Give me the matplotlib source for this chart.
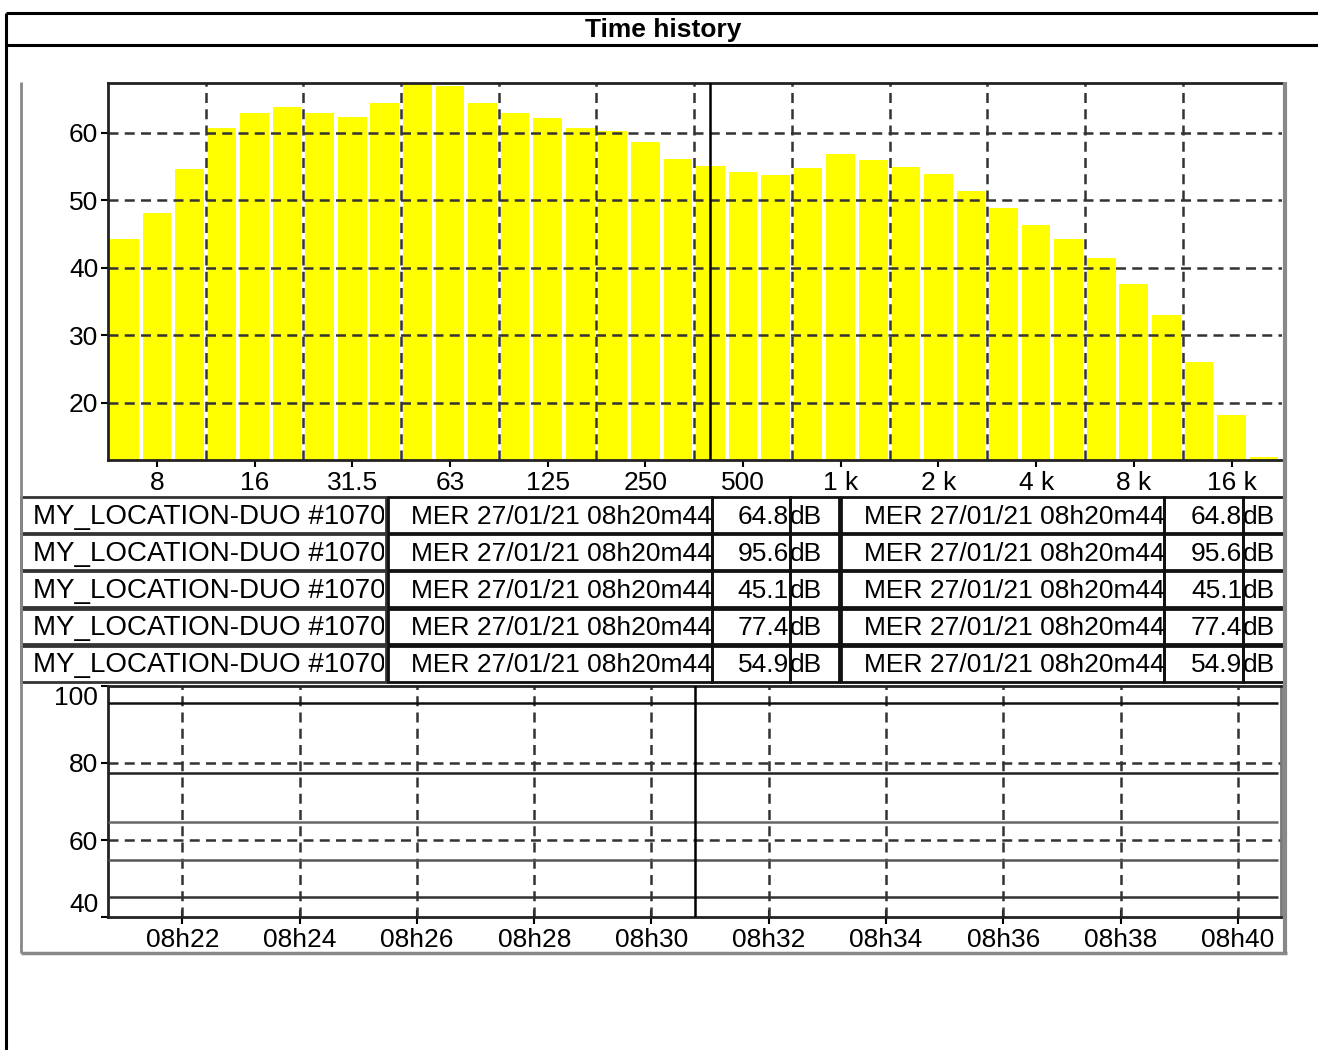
import matplotlib
matplotlib.use("Agg")
import matplotlib.pyplot as plt
from matplotlib.patches import Rectangle
from matplotlib.lines import Line2D
from matplotlib.transforms import Bbox, TransformedBbox

plt.rcParams['font.family'] = ['Liberation Sans', 'DejaVu Sans']

# --- data ---
bands = ['6.3', '8', '10', '12.5', '16', '20', '25', '31.5', '40', '50', '63', '80',
         '100', '125', '160', '200', '250', '315', '400', '500', '630', '800',
         '1 k', '1.25 k', '1.6 k', '2 k', '2.5 k', '3.15 k', '4 k', '5 k', '6.3 k',
         '8 k', '10 k', '12.5 k', '16 k', '20 k']
levels = [44.2, 48.1, 54.7, 60.8, 62.9, 63.8, 62.9, 62.4, 64.4, 67.2, 67.0, 64.4,
          63.0, 62.2, 60.8, 60.3, 58.7, 56.1, 55.1, 54.2, 53.7, 54.8,
          56.9, 56.0, 54.9, 53.9, 51.4, 48.9, 46.4, 44.2, 41.5,
          37.6, 33.0, 26.1, 18.1, 12.0]
octave_labels = ['8', '16', '31.5', '63', '125', '250', '500', '1 k', '2 k', '4 k', '8 k', '16 k']
cursor_band = '400'

row_names = ['MY_LOCATION-DUO #10705'] * 5
row_dates = ['MER 27/01/21 08h20m44'] * 5
row_values = [64.8, 95.6, 45.1, 77.4, 54.9]

# time axis in minutes after 08h00
t_start = 20 + 44 / 60
t_end = 40 + 44 / 60
t_cursor = 30 + 44 / 60
time_ticks = [22, 24, 26, 28, 30, 32, 34, 36, 38, 40]
time_labels = ['08h%02d' % m for m in time_ticks]
line_colors = ['#666666', '#111111', '#333333', '#222222', '#555555']

W, H = 1318, 1050
FS = 19
fig = plt.figure(figsize=(W / 100, H / 100), dpi=100)


def fx(px):
    return px / W


def fy(py):
    return 1 - py / H


grid_kw = dict(color='#333333', linestyle=(0, (4, 2.5)), linewidth=1.8)

# --- spectrum ---
ax1 = fig.add_axes([fx(108), fy(460), fx(1282) - fx(108), fy(83) - fy(460)])
x = list(range(len(bands)))
ax1.bar(x, levels, width=0.88, color='#ffff00', zorder=1)
ax1.set_xlim(-0.5, 35.55)
ax1.set_ylim(11.5, 67.4)
for g in range(2, len(bands) - 2, 3):
    ax1.axvline(g + 0.5, zorder=2, **grid_kw)
for v in [20, 30, 40, 50, 60]:
    ax1.axhline(v, zorder=2, **grid_kw)
ax1.axvline(bands.index(cursor_band), color='black', linewidth=1.8, zorder=3)
ax1.set_xticks([bands.index(b) for b in octave_labels])
ax1.set_xticklabels(octave_labels)
ax1.set_yticks([20, 30, 40, 50, 60])
ax1.tick_params(labelsize=FS, length=5, width=1.5, pad=3, colors='black')
ax1.tick_params(axis='y', pad=2)
ax1.spines['right'].set_visible(False)
for s in ['top', 'bottom', 'left']:
    ax1.spines[s].set_linewidth(2)
    ax1.spines[s].set_color('#222222')

# --- time history ---
ax2 = fig.add_axes([fx(108), fy(917), fx(1281) - fx(108), fy(686) - fy(917)])
ax2.set_xlim(t_start, t_end)
ax2.set_ylim(40, 100)
ax2.hlines(row_values, t_start, t_end - 0.05, colors=line_colors, linewidth=1.8, zorder=3)
for t in time_ticks:
    ax2.axvline(t, zorder=2, **grid_kw)
for v in [60, 80]:
    ax2.axhline(v, zorder=2, **grid_kw)
ax2.axvline(t_cursor, color='black', linewidth=1.8, zorder=4)
ax2.set_xticks(time_ticks)
ax2.set_xticklabels(time_labels)
ax2.set_yticks([40, 60, 80, 100])
ax2.set_yticklabels(['40', '60', '80', '100'])
ax2.tick_params(labelsize=FS, length=5, width=1.5, pad=2, colors='black')
ax2.tick_params(axis='x', direction='inout', length=10, pad=3)
labs = ax2.get_yticklabels()
labs[0].set_va('bottom')
labs[-1].set_va('top')
for s in ax2.spines.values():
    s.set_linewidth(2)
    s.set_color('#222222')
ax2.spines['right'].set_color('#777777')

# --- overlay: frames, title and table ---
ov = fig.add_axes([0, 0, 1, 1], zorder=5)
ov.set_xlim(0, W)
ov.set_ylim(H, 0)
ov.axis('off')
ov.patch.set_visible(False)

def line(xs, ys, c='black', lw=2.2):
    ov.add_line(Line2D(xs, ys, color=c, linewidth=lw, solid_capstyle='butt'))

line([6, W + 5], [13, 13])
line([6, W + 5], [45, 45])
line([6, 6], [13, H + 5])
ov.text(663, 30, 'Time history', ha='center', va='center', fontsize=FS, fontweight='bold')

# panel frame
line([21, 21], [82, 953], c='#888888', lw=2)
line([21, 1287], [953, 953], c='#888888', lw=2.5)
line([1285, 1285], [82, 953], c='#888888', lw=3)

cols = [(21, 386), (388, 712), (712, 790), (790, 839), (841, 1164), (1164, 1243), (1243, 1285)]
row_top = 497
row_h = 37.2
for i in range(len(row_values)):
    y0 = row_top + i * row_h
    yc = y0 + row_h / 2 + 1
    for j, (a, b) in enumerate(cols):
        ec = '#333333' if j == 0 else '#111111'
        ov.add_patch(Rectangle((a, y0), b - a, row_h - 1.5, fill=False,
                               edgecolor=ec, linewidth=2))
    # name is wider than its cell in the original and gets cut at the edge
    t = ov.text(33, yc, row_names[i], ha='left', va='center', fontsize=FS + 1)
    t.set_clip_box(TransformedBbox(Bbox.from_extents(21, y0, 384, y0 + row_h), ov.transData))
    t.set_clip_on(True)
    ov.text(712, yc, row_dates[i], ha='right', va='center', fontsize=FS)
    ov.text(789, yc, '%.1f' % row_values[i], ha='right', va='center', fontsize=FS)
    ov.text(790, yc, 'dB', ha='left', va='center', fontsize=FS)
    ov.text(1165, yc, row_dates[i], ha='right', va='center', fontsize=FS)
    ov.text(1242, yc, '%.1f' % row_values[i], ha='right', va='center', fontsize=FS)
    ov.text(1243, yc, 'dB', ha='left', va='center', fontsize=FS)

fig.savefig('out.png', dpi=100)
